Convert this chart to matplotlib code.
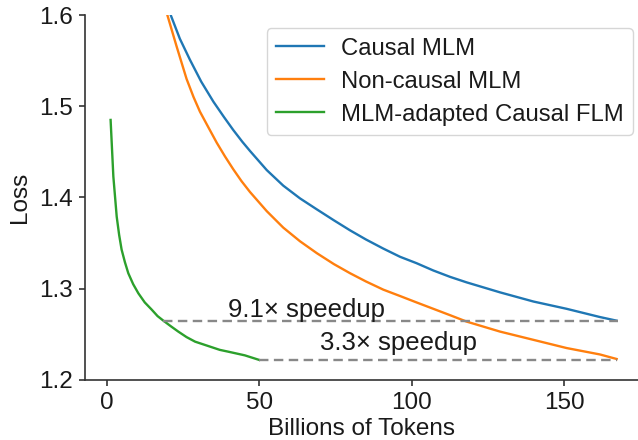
import matplotlib
matplotlib.use("Agg")
import matplotlib.pyplot as plt

plt.rcParams['font.family'] = ['Liberation Sans', 'DejaVu Sans']

# Data
causal_x = [21.0, 24.0, 27.3, 31.0, 35.0, 38.5, 41.5, 44.5, 47.0, 52.5, 57.9, 63.4, 68.9, 74.5, 79.8, 85.0,
            90.7, 96.2, 101.6, 107.1, 112.6, 118.0, 129.0, 139.9, 150.8, 161.7, 167.2]
causal_y = [1.600, 1.574, 1.551, 1.527, 1.505, 1.488, 1.474, 1.461, 1.451, 1.430, 1.413, 1.399, 1.387, 1.375, 1.364, 1.354,
            1.344, 1.335, 1.328, 1.320, 1.313, 1.307, 1.296, 1.286, 1.278, 1.269, 1.265]

noncausal_x = [19.9, 22.9, 26.2, 28.5, 30.6, 33.5, 36.1, 38.8, 41.5, 44.2, 47.0, 52.5, 57.9, 63.4, 68.9, 74.5,
               79.8, 85.0, 90.7, 96.2, 101.6, 107.1, 112.6, 118.0, 129.0, 139.9, 150.8, 161.7, 167.2]
noncausal_y = [1.600, 1.566, 1.530, 1.510, 1.494, 1.476, 1.460, 1.445, 1.431, 1.418, 1.406, 1.385, 1.367, 1.352, 1.339, 1.327,
               1.317, 1.308, 1.299, 1.292, 1.285, 1.278, 1.271, 1.264, 1.253, 1.244, 1.235, 1.228, 1.223]

adapted_x = [1.3, 2.2, 3.3, 4.1, 4.9, 6.0, 7.1, 8.7, 10.4, 12.5, 14.8, 16.7, 18.6, 21.0, 23.5, 26.2,
             29.0, 31.7, 34.4, 37.1, 39.9, 42.6, 45.3, 50.0]
adapted_y = [1.485, 1.423, 1.379, 1.359, 1.343, 1.329, 1.317, 1.305, 1.295, 1.285, 1.277, 1.270, 1.265, 1.259, 1.253, 1.247,
             1.242, 1.239, 1.236, 1.233, 1.231, 1.229, 1.227, 1.222]

labels = ["Causal MLM", "Non-causal MLM", "MLM-adapted Causal FLM"]
colors = ["#1f77b4", "#ff7f0e", "#2ca02c"]

speedup_levels = [1.265, 1.222]
speedup_starts = [18.6, 50.0]
speedup_ends = [167.5, 167.2]
speedup_texts = ["9.1\u00d7 speedup", "3.3\u00d7 speedup"]
speedup_text_pos = [(39.8, 1.2694), (69.8, 1.2329)]

fig = plt.figure(figsize=(6.38, 4.40), dpi=100)
ax = fig.add_axes([0.1332, 0.1364, 0.8668, 0.8295])

ax.plot(causal_x, causal_y, color=colors[0], lw=1.7, label=labels[0])
ax.plot(noncausal_x, noncausal_y, color=colors[1], lw=1.7, label=labels[1])
ax.plot(adapted_x, adapted_y, color=colors[2], lw=1.7, label=labels[2])

for lvl, xs, xe in zip(speedup_levels, speedup_starts, speedup_ends):
    ax.plot([xs, xe], [lvl, lvl], color="#888888", lw=1.7, linestyle=(0, (4, 2.3)))
for txt, (tx, ty) in zip(speedup_texts, speedup_text_pos):
    ax.text(tx, ty, txt, fontsize=18.5, ha="left", va="baseline", color="#1a1a1a")

ax.set_xlim(-7.1, 174.2)
ax.set_ylim(1.2, 1.6)
ax.set_xticks([0, 50, 100, 150])
ax.set_yticks([1.2, 1.3, 1.4, 1.5, 1.6])
ax.set_yticklabels(["1.2", "1.3", "1.4", "1.5", "1.6"])

for s in ["top", "right"]:
    ax.spines[s].set_visible(False)
for s in ["left", "bottom"]:
    ax.spines[s].set_color("#333333")
    ax.spines[s].set_linewidth(1.2)
ax.tick_params(axis="both", direction="out", length=4.5, width=1.2, color="#333333",
               labelsize=17.5, labelcolor="#1a1a1a", pad=4)

ax.set_xlabel("Billions of Tokens", fontsize=17.5, color="#1a1a1a", labelpad=3)
ax.set_ylabel("Loss", fontsize=17.5, color="#1a1a1a", labelpad=6)

leg = ax.legend(loc="upper right", bbox_to_anchor=(0.991, 0.964), borderaxespad=0,
                fontsize=17.2, handlelength=2.0, handletextpad=0.7, labelspacing=0.46,
                frameon=True, fancybox=True, borderpad=0.4)
leg.get_frame().set_edgecolor("#cccccc")
leg.get_frame().set_linewidth(1.0)
for t in leg.get_texts():
    t.set_color("#1a1a1a")

fig.savefig("out.png", dpi=100)
